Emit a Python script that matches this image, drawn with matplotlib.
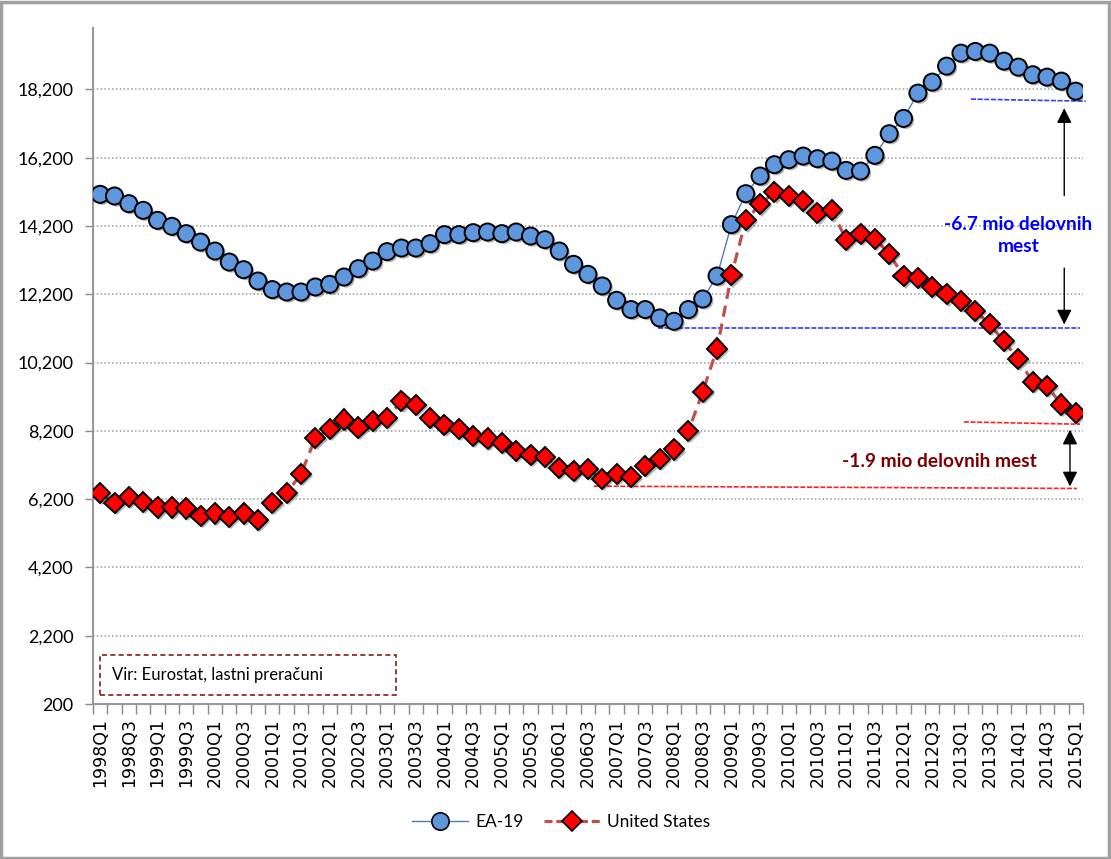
import matplotlib
matplotlib.use("Agg")
import matplotlib.pyplot as plt
import matplotlib.patheffects as pe
from matplotlib.patches import Rectangle
from matplotlib.ticker import FuncFormatter

# ---------------------------------------------------------------
# data (thousand people unemployed)
# ---------------------------------------------------------------

years = list(range(1998, 2016))
quarters = ["%dQ%d" % (y, q) for y in years for q in (1, 2, 3, 4)][:69]

ea19 = [15128, 15080, 14855, 14660, 14367, 14191, 13977, 13730, 13468, 13145,
        12922, 12590, 12338, 12268, 12268, 12415, 12493, 12707, 12952, 13175,
        13450, 13556, 13556, 13684, 13948, 13948, 14006, 14025, 13977, 14025,
        13907, 13801, 13468, 13078, 12785, 12445, 12025, 11753, 11753, 11508,
        11410, 11753, 12063, 12736, 14241, 15148, 15664, 15997, 16143, 16249,
        16172, 16102, 15830, 15810, 16270, 16904, 17352, 18093, 18415, 18883,
        19264, 19313, 19264, 19030, 18854, 18631, 18561, 18444, 18151]

us = [6385, 6092, 6268, 6113, 5957, 5957, 5928, 5703, 5781, 5683,
      5781, 5586, 6092, 6385, 6932, 7995, 8249, 8533, 8299, 8493,
      8581, 9069, 8952, 8581, 8366, 8249, 8054, 7977, 7849, 7614,
      7488, 7439, 7117, 7020, 7085, 6786, 6932, 6854, 7175, 7371,
      7655, 8191, 9341, 10611, 12757, 14367, 14835, 15196, 15079, 14923,
      14581, 14660, 13801, 13977, 13830, 13391, 12727, 12678, 12415, 12200,
      12005, 11712, 11322, 10825, 10298, 9634, 9517, 8972, 8727]

yticks = list(range(200, 20000, 2000))

# hand drawn markers of the gap (levels in thousands)
ea_top = (60.7, 68.7, 17917, 17858)
ea_low = (38.9, 68.3, 11214, 11214)
us_top = (60.2, 68.3, 8463, 8396)
us_low = (34.4, 68.1, 6581, 6514)

# ---------------------------------------------------------------
# plot
# ---------------------------------------------------------------

plt.rcParams["font.family"] = ["Lato", "DejaVu Sans"]

fig = plt.figure(figsize=(11.11, 8.59), dpi=100)
axes = fig.add_axes([0.0837, 0.1804, 0.891, 0.787])

x = list(range(len(quarters)))
shadow = [pe.SimplePatchShadow(offset=(1.5, -1.5), shadow_rgbFace="k", alpha=0.3), pe.Normal()]

# EA-19
axes.plot(x, ea19, color="#4a7ebb", lw=1.0, zorder=3)
axes.plot(x, ea19, ls="none", marker="o", ms=12.3, mfc="#5f97de", mec="black",
          mew=1.4, zorder=5, path_effects=shadow)
# United States
axes.plot(x, us, color="#c0504d", lw=2.3, ls=(0, (3.5, 2.2)), zorder=3)
axes.plot(x, us, ls="none", marker="D", ms=10.3, mfc="#ff0000", mec="black",
          mew=1.4, zorder=5, path_effects=shadow)

# legend proxies
h1, = axes.plot([], [], color="#4a7ebb", lw=1.0, marker="o", ms=12.5,
                mfc="#5f97de", mec="black", mew=1.2)
h2, = axes.plot([], [], color="#c0504d", lw=2.3, ls=(0, (2.5, 1.2)), marker="D",
                ms=10.5, mfc="#ff0000", mec="black", mew=1.2)
fig.legend([h1, h2], ["EA-19", "United States"], loc="center",
           bbox_to_anchor=(0.505, 0.043), ncol=2, frameon=False,
           fontsize=12.5, handlelength=3.2, columnspacing=1.2, handletextpad=0.4)

# gap annotations
for (x0, x1, y0, y1), c in [(ea_top, "#3a3aff"), (ea_low, "#3a3aff"),
                            (us_top, "#ff2020"), (us_low, "#ff2020")]:
    axes.plot([x0, x1], [y0, y1], color=c, lw=1.2, ls=(0, (3, 1)), zorder=2,
              clip_on=False)

arrow = dict(arrowstyle="-|>,head_width=0.45,head_length=0.9", color="black", lw=1.0)
axes.annotate("", xy=(67.2, 17733), xytext=(67.2, 15010), arrowprops=arrow)
axes.annotate("", xy=(67.2, 11235), xytext=(67.2, 13050), arrowprops=arrow)
axes.annotate("", xy=(67.6, 6493), xytext=(67.6, 8317),
              arrowprops=dict(arrowstyle="<|-|>,head_width=0.45,head_length=0.9",
                              color="black", lw=1.0))
axes.text(64.0, 13928, "-6.7 mio delovnih\nmest", color="#0000ff", fontsize=13.8,
          fontweight="bold", ha="center", va="center", linespacing=1.38)
axes.text(58.5, 7313, "-1.9 mio delovnih mest", color="#7a0000", fontsize=13.8,
          fontweight="bold", ha="center", va="center")

# source box
axes.add_patch(Rectangle((0.007, 0.0133), 0.299, 0.0592, transform=axes.transAxes,
                         fill=False, ec="#8b1a1a", lw=1.2, ls=(0, (3, 2)), zorder=6))
axes.text(0.019, 0.0429, "Vir: Eurostat, lastni preračuni", transform=axes.transAxes,
          fontsize=12, va="center", ha="left")

# configure
axes.set_xlim(-0.5, len(quarters) - 0.5)
axes.set_ylim(200, 20000)
axes.set_yticks(yticks)
axes.yaxis.set_major_formatter(FuncFormatter(lambda v, p: "{:,.0f}".format(v)))
axes.set_xticks(x[::2])
axes.set_xticklabels(quarters[::2], rotation=90, family="DejaVu Sans", fontsize=12.5)
axes.set_xticks([i - 0.5 for i in range(len(quarters) + 1)], minor=True)
axes.tick_params(axis="x", which="major", length=0, pad=10)
axes.tick_params(axis="x", which="minor", length=7, color="#888888", width=1)
axes.tick_params(axis="y", length=6, color="#888888", width=1, labelsize=13, pad=8)
for side in ("top", "right"):
    axes.spines[side].set_visible(False)
for side in ("left", "bottom"):
    axes.spines[side].set_color("#999999")
    axes.spines[side].set_linewidth(1.5)
axes.yaxis.grid(True, color="#999999", linestyle=(0, (1, 1.5)), lw=1.1)
axes.set_axisbelow(True)

# chart border
fig.patches.append(Rectangle((0.001, 0.001), 0.997, 0.997, transform=fig.transFigure,
                             fill=False, ec="#a0a0a0", lw=2.5))

plt.savefig("out.png", dpi=100)
